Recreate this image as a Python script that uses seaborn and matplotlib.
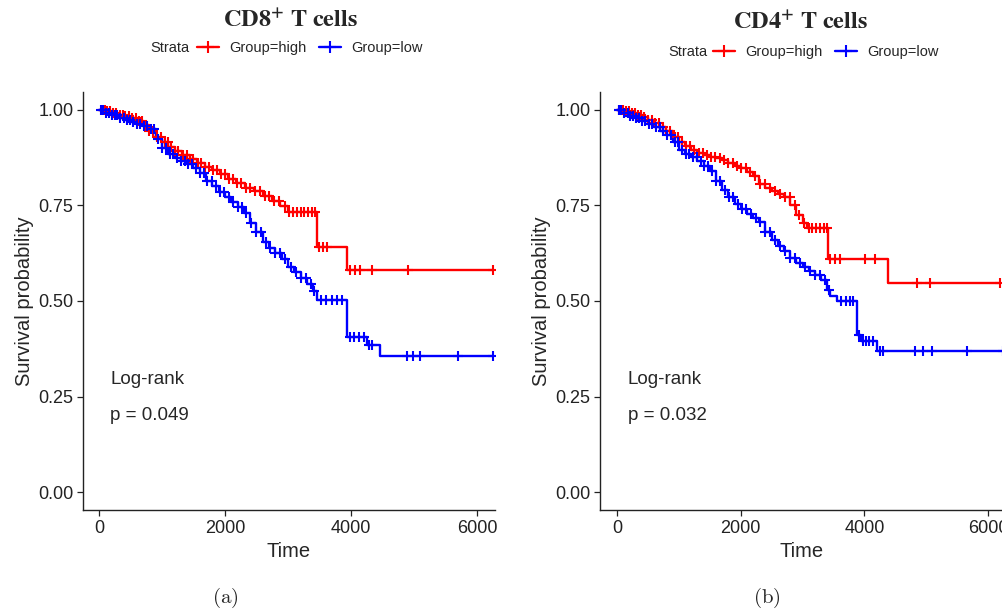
import numpy as np
import pandas as pd
import matplotlib
matplotlib.use("Agg")
import matplotlib.pyplot as plt
from matplotlib.lines import Line2D
import seaborn as sns

# ---- panel (a) CD8+ T cells ----
a_high_t = [0, 100, 200, 300, 400, 500, 600, 700, 800, 900, 1000, 1100, 1200, 1320, 1440,
            1560, 1680, 1800, 1920, 2050, 2180, 2320, 2460, 2600, 2740, 2880, 3000, 3460, 3940]
a_high_s = [1.0, 0.997, 0.993, 0.988, 0.983, 0.978, 0.972, 0.96, 0.945, 0.93, 0.916, 0.904, 0.893,
            0.882, 0.872, 0.862, 0.852, 0.842, 0.832, 0.82, 0.808, 0.797, 0.787, 0.775, 0.762,
            0.748, 0.733, 0.641, 0.581]
a_high_c = [40, 90, 130, 180, 230, 270, 330, 380, 420, 470, 520, 580, 630, 690, 740, 800, 860,
            920, 980, 1040, 1090, 1150, 1210, 1260, 1330, 1390, 1450, 1500, 1570, 1620, 1690,
            1750, 1810, 1870, 1940, 2000, 2060, 2130, 2190, 2250, 2330, 2400, 2480, 2560, 2630,
            2700, 2780, 2850, 2950, 3020, 3080, 3140, 3200, 3260, 3320, 3380, 3430, 3500, 3560,
            3620, 3980, 4060, 4140, 4330, 4900, 6250]

a_low_t = [0, 100, 200, 300, 400, 500, 600, 700, 800, 900, 1000, 1100, 1200, 1300, 1400, 1500,
           1600, 1700, 1800, 1900, 2000, 2100, 2200, 2300, 2400, 2500, 2600, 2700, 2800, 2900,
           3000, 3100, 3200, 3300, 3400, 3460, 3940, 4250, 4460]
a_low_s = [1.0, 0.993, 0.987, 0.98, 0.975, 0.968, 0.962, 0.958, 0.95, 0.925, 0.9, 0.885, 0.875,
           0.867, 0.858, 0.848, 0.835, 0.815, 0.8, 0.785, 0.772, 0.76, 0.745, 0.73, 0.705, 0.68,
           0.655, 0.64, 0.625, 0.61, 0.59, 0.575, 0.56, 0.545, 0.525, 0.503, 0.406, 0.385, 0.356]
a_low_c = [30, 70, 110, 160, 200, 250, 290, 340, 390, 440, 490, 540, 600, 650, 710, 760, 820,
           880, 940, 1000, 1060, 1120, 1180, 1240, 1300, 1360, 1420, 1480, 1540, 1600, 1660,
           1720, 1790, 1850, 1920, 1990, 2060, 2130, 2200, 2270, 2340, 2420, 2500, 2570, 2650,
           2720, 2800, 2880, 2960, 3040, 3120, 3200, 3280, 3360, 3420, 3520, 3600, 3700, 3780,
           3850, 3980, 4050, 4120, 4200, 4280, 4330, 4890, 4980, 5090, 5700, 6250]

# ---- panel (b) CD4+ T cells ----
b_high_t = [0, 100, 200, 300, 400, 500, 600, 700, 800, 900, 1000, 1100, 1200, 1300, 1400, 1500,
            1600, 1700, 1800, 1900, 2000, 2100, 2200, 2300, 2400, 2500, 2600, 2700, 2800, 2900,
            3000, 3080, 3411, 4381]
b_high_s = [1.0, 0.997, 0.993, 0.988, 0.982, 0.974, 0.965, 0.955, 0.945, 0.93, 0.915, 0.905,
            0.895, 0.888, 0.882, 0.877, 0.873, 0.869, 0.862, 0.854, 0.847, 0.838, 0.828, 0.805,
            0.795, 0.787, 0.78, 0.772, 0.75, 0.725, 0.705, 0.69, 0.609, 0.548]
b_high_c = [40, 90, 140, 190, 240, 290, 340, 390, 440, 500, 560, 620, 680, 740, 800, 860, 930,
            990, 1050, 1120, 1180, 1250, 1320, 1390, 1450, 1520, 1590, 1660, 1730, 1800, 1870,
            1940, 2010, 2080, 2150, 2230, 2310, 2390, 2470, 2550, 2630, 2710, 2790, 2870, 2950,
            3020, 3100, 3160, 3220, 3280, 3340, 3390, 3444, 3525, 3606, 4010, 4171, 4850, 5060,
            6192]

b_low_t = [0, 100, 200, 300, 400, 500, 600, 700, 800, 900, 1000, 1100, 1200, 1300, 1400, 1500,
           1600, 1700, 1800, 1900, 2000, 2100, 2200, 2300, 2400, 2500, 2600, 2700, 2800, 2900,
           3000, 3100, 3200, 3300, 3400, 3450, 3560, 3880, 3950, 4203]
b_low_s = [1.0, 0.992, 0.985, 0.978, 0.97, 0.962, 0.955, 0.946, 0.935, 0.915, 0.895, 0.885,
           0.876, 0.866, 0.853, 0.84, 0.815, 0.79, 0.772, 0.755, 0.74, 0.727, 0.716, 0.706,
           0.68, 0.66, 0.645, 0.63, 0.612, 0.6, 0.588, 0.578, 0.568, 0.555, 0.53, 0.512, 0.499,
           0.41, 0.396, 0.37]
b_low_c = [30, 70, 120, 170, 210, 260, 310, 360, 410, 460, 510, 570, 630, 690, 750, 810, 870,
           930, 990, 1050, 1110, 1170, 1230, 1290, 1350, 1410, 1470, 1530, 1600, 1670, 1740,
           1810, 1880, 1950, 2020, 2090, 2160, 2240, 2320, 2400, 2480, 2560, 2640, 2720, 2800,
           2880, 2960, 3040, 3120, 3200, 3280, 3360, 3430, 3620, 3700, 3760, 3820, 3910, 3970,
           4020, 4080, 4140, 4252, 4300, 4818, 4947, 5093, 5659, 6241]

titles = [r"$\mathbf{CD8^{+}\ T\ cells}$", r"$\mathbf{CD4^{+}\ T\ cells}$"]
pvals = ["p = 0.049", "p = 0.032"]
captions = ["(a)", "(b)"]

RED = "#FF0000"
BLUE = "#0000FF"

sns.set_style("ticks")
plt.rcParams['font.family'] = ['Liberation Sans', 'DejaVu Sans']

fig = plt.figure(figsize=(10.03, 6.15), dpi=100)
W, H = 1003, 615
ax_a = fig.add_axes([83 / W, 1 - 510 / H, 412 / W, 418 / H])
ax_b = fig.add_axes([600 / W, 1 - 510 / H, 403 / W, 418 / H])


def km_frame(t, s, cens):
    # step line runs to the last follow-up time
    line = pd.DataFrame({"time": t + [cens[-1]], "surv": s + [s[-1]]})
    idx = np.searchsorted(np.array(t), np.array(cens), side="right") - 1
    marks = pd.DataFrame({"time": cens, "surv": np.array(s)[idx]})
    return line, marks


panels = [
    (ax_a, (a_high_t, a_high_s, a_high_c), (a_low_t, a_low_s, a_low_c), (-254, 6286)),
    (ax_b, (b_high_t, b_high_s, b_high_c), (b_low_t, b_low_s, b_low_c), (-275, 6241)),
]

for i, (ax, hi, lo, xl) in enumerate(panels):
    for grp, col in [(hi, RED), (lo, BLUE)]:
        line, marks = km_frame(*grp)
        sns.lineplot(data=line, x="time", y="surv", ax=ax, color=col, lw=1.7,
                     drawstyle="steps-post", estimator=None, sort=False)
        sns.scatterplot(data=marks, x="time", y="surv", ax=ax, color=col, marker="+",
                        s=50, linewidth=1.5, zorder=3)
    ax.set_xlim(*xl)
    ax.set_ylim(-0.047, 1.047)
    ax.set_xticks([0, 2000, 4000, 6000])
    ax.set_yticks([0, 0.25, 0.5, 0.75, 1.0])
    ax.set_yticklabels(["0.00", "0.25", "0.50", "0.75", "1.00"])
    ax.tick_params(labelsize=13, length=4, width=0.9, colors="#222222", pad=3)
    ax.set_xlabel("Time", fontsize=14.5, labelpad=4)
    ax.set_ylabel("Survival probability", fontsize=14.5, labelpad=3)
    for sp in ["left", "bottom"]:
        ax.spines[sp].set_linewidth(1.0)
        ax.spines[sp].set_color("#222222")
    sns.despine(ax=ax)
    ax.text(175, 0.295, "Log-rank", fontsize=13.5, va="center", ha="left")
    ax.text(175, 0.20, pvals[i], fontsize=13.5, va="center", ha="left")

# titles, legends, captions
for cx, cy, ly, sx, lx, ttl, cap in [
    (290, 21, 48, 150, 197, titles[0], captions[0]),
    (800, 23, 52, 668, 713, titles[1], captions[1]),
]:
    fig.text(cx / W, 1 - cy / H, ttl, ha="center", va="center", fontsize=17.5,
             math_fontfamily="stix")
    fig.text(sx / W, 1 - ly / H, "Strata", ha="left", va="center", fontsize=10.5)
    handles = [Line2D([], [], color=RED, marker="+", markersize=9, lw=1.7, mew=1.5),
               Line2D([], [], color=BLUE, marker="+", markersize=9, lw=1.7, mew=1.5)]
    fig.legend(handles, ["Group=high", "Group=low"], loc="center left",
               bbox_to_anchor=(lx / W, 1 - ly / H), ncol=2, frameon=False, fontsize=10.5,
               handlelength=1.5, handletextpad=0.7, columnspacing=0.9, borderaxespad=0,
               borderpad=0)
    capx = 225 if cap == "(a)" else 767
    fig.text(capx / W, 1 - 598 / H, r"$\mathrm{" + cap + "}$", ha="center", va="center",
             fontsize=15, math_fontfamily="cm")

fig.savefig("out.png", dpi=100)
